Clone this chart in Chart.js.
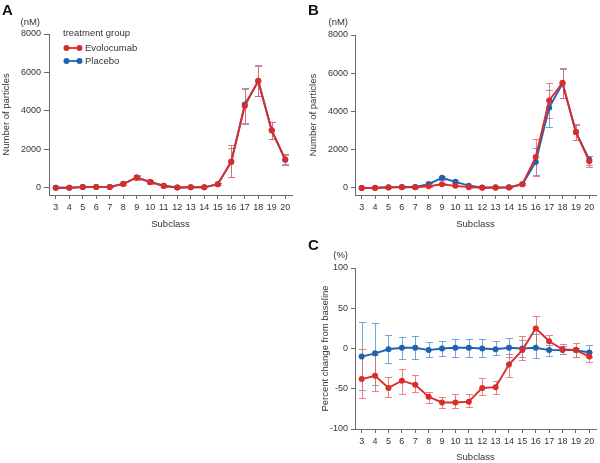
<!DOCTYPE html>
<html>
<head>
<meta charset="utf-8">
<script src="https://cdn.jsdelivr.net/npm/chart.js@4.4.1/dist/chart.umd.min.js"></script>
<style>
  body { margin:0; background:#fff; }
  .panel { position:absolute; }
</style>
</head>
<body>
<div class="panel" style="left:0;top:0"><canvas id="chartA" width="300" height="230"></canvas></div>
<div class="panel" style="left:300px;top:0"><canvas id="chartB" width="300" height="230"></canvas></div>
<div class="panel" style="left:300px;top:230px"><canvas id="chartC" width="300" height="233"></canvas></div>
<script>
// ======================================
// Data
// ======================================

const subclasses = ["3","4","5","6","7","8","9","10","11","12","13","14","15","16","17","18","19","20"];

const countTicks = [0,2000,4000,6000,8000];
const pctTicks = [-100,-50,0,50,100];

// A - baseline (nM)
const baseEvo     = [10,10,40,50,50,200,540,300,100,20,30,30,190,1370,4260,5570,2990,1480];
const baseEvoLow  = [0,0,20,30,30,140,430,220,60,10,20,20,140,560,3360,4780,2560,1220];
const baseEvoHigh = [20,20,60,70,70,260,650,380,140,30,40,40,240,2220,5170,6390,3450,1740];
const basePla     = [10,10,40,50,50,210,540,310,110,20,30,30,190,1350,4330,5540,2980,1460];
const basePlaLow  = [0,0,20,30,30,150,440,230,70,10,20,20,140,590,3330,4760,2540,1200];
const basePlaHigh = [20,20,60,70,70,270,640,390,150,30,40,40,240,2080,5130,6330,3420,1720];

// B - on treatment (nM)
const wkEvo     = [0,0,20,30,30,90,190,110,40,10,10,20,190,1620,4580,5500,2920,1390];
const wkEvoLow  = [0,0,10,20,20,60,140,80,20,0,0,10,140,630,3660,4720,2530,1100];
const wkEvoHigh = [10,10,30,40,40,120,240,140,60,20,20,30,240,2540,5500,6270,3360,1670];
const wkPla     = [0,10,40,50,50,200,530,320,120,20,30,30,190,1360,4200,5460,2920,1480];
const wkPlaLow  = [0,0,20,30,30,140,420,240,80,10,20,20,140,660,3190,4700,2500,1200];
const wkPlaHigh = [10,30,60,70,70,260,640,400,160,30,40,40,240,2090,5140,6230,3300,1650];

// C - percent change from baseline
const pctEvo     = [-38,-34,-49,-40,-45,-60,-67,-67,-66,-49,-48,-20,-2,25,9,-1,-2,-10];
const pctEvoLow  = [-61,-53,-60,-56,-54,-68,-74,-74,-73,-58,-56,-35,-14,1,-1,-7,-10,-17];
const pctEvoHigh = [0,-8,-35,-25,-33,-54,-60,-57,-56,-37,-40,-7,16,40,17,5,7,-4];
const pctPla     = [-10,-6,-1,1,1,-2,0,1,1,0,-1,1,0,1,-2,-2,-2,-5];
const pctPlaLow  = [-52,-45,-18,-13,-13,-11,-9,-10,-11,-11,-8,-10,-11,-12,-9,-7,-10,-11];
const pctPlaHigh = [33,32,17,14,16,8,9,12,12,12,9,13,10,18,4,3,1,4];

// ======================================
// Style
// ======================================

const RED = "#dc2b2b";
const BLUE = "#1f63b0";
const RED_ERR = "rgba(232,100,90,0.8)";
const BLUE_ERR = "rgba(90,140,210,0.8)";
const AXIS = "#6a6a6a";
const TEXT = "#333";
const FONT = "'Liberation Sans', Arial, sans-serif";

Chart.defaults.font.family = FONT;
Chart.defaults.font.size = 9;
Chart.defaults.color = TEXT;

// ======================================
// Plugins
// ======================================

const errorBars = {
    id:"errorBars",
    beforeDatasetsDraw(chart, args, opts){
        const ctx = chart.ctx;
        const xs = chart.scales.x;
        const ys = chart.scales.y;
        const cap = 3.5;
        (opts.bars || []).forEach(b=>{
            ctx.save();
            ctx.strokeStyle = b.color;
            ctx.lineWidth = 1;
            ctx.beginPath();
            b.low.forEach((lo,i)=>{
                const px = Math.round(xs.getPixelForValue(i)) + 0.5;
                const p1 = Math.round(ys.getPixelForValue(lo)) + 0.5;
                const p2 = Math.round(ys.getPixelForValue(b.high[i])) + 0.5;
                ctx.moveTo(px,p1); ctx.lineTo(px,p2);
                ctx.moveTo(px-cap,p1); ctx.lineTo(px+cap,p1);
                ctx.moveTo(px-cap,p2); ctx.lineTo(px+cap,p2);
            });
            ctx.stroke();
            ctx.restore();
        });
    }
};

const panelText = {
    id:"panelText",
    afterDraw(chart, args, opts){
        const ctx = chart.ctx;
        ctx.save();
        ctx.fillStyle = "#111";
        ctx.font = "bold 15px " + FONT;
        ctx.textBaseline = "top";
        ctx.textAlign = "left";
        ctx.fillText(opts.letter, opts.letterX, opts.letterY);

        ctx.fillStyle = TEXT;
        ctx.font = "9.5px " + FONT;
        ctx.textAlign = "right";
        ctx.textBaseline = "middle";
        ctx.fillText(opts.unit, opts.unitX, opts.unitY);

        if(opts.legend){
            const lg = opts.legend;
            ctx.textAlign = "left";
            ctx.fillText("treatment group", lg.x, lg.y);
            chart.data.datasets.forEach((ds,i)=>{
                const y = lg.y + 15 + i*13;
                ctx.strokeStyle = ds.borderColor;
                ctx.fillStyle = ds.borderColor;
                ctx.lineWidth = 1.8;
                ctx.beginPath();
                ctx.moveTo(lg.x + 1, y); ctx.lineTo(lg.x + 19, y);
                ctx.stroke();
                [lg.x + 3.5, lg.x + 16.5].forEach(cx=>{
                    ctx.beginPath();
                    ctx.arc(cx, y, 3, 0, Math.PI*2);
                    ctx.fill();
                });
                ctx.fillStyle = TEXT;
                ctx.fillText(ds.label, lg.x + 22, y);
            });
        }
        ctx.restore();
    }
};

// ======================================
// Chart builder
// ======================================

function makeDataset(label, data, color){
    return {
        label:label,
        data:data,
        borderColor:color,
        backgroundColor:color,
        borderWidth:1.9,
        pointRadius:3,
        pointBorderWidth:0,
        pointBackgroundColor:color,
        tension:0
    };
}

function createPanel(id, cfg){
    const ctx = document.getElementById(id);
    return new Chart(ctx,{
        type:"line",
        data:{
            labels:subclasses,
            datasets:[
                makeDataset("Evolocumab", cfg.evo, RED),
                makeDataset("Placebo", cfg.pla, BLUE)
            ]
        },
        options:{
            responsive:false,
            animation:false,
            devicePixelRatio:1,
            layout:{ padding:cfg.padding },
            plugins:{
                legend:{ display:false },
                tooltip:{ enabled:false },
                errorBars:{ bars:cfg.bars },
                panelText:cfg.text
            },
            scales:{
                x:{
                    type:"category",
                    offset:true,
                    afterFit:s=>{ s.height = cfg.xHeight; },
                    grid:{ display:true, drawOnChartArea:false, offset:false, tickLength:4, color:AXIS },
                    border:{ display:true, color:AXIS },
                    ticks:{ padding:3, maxRotation:0, autoSkip:false, font:{ size:9 } },
                    title:{ display:true, text:"Subclass", font:{ size:9.5 }, padding:{ top:0, bottom:0 } }
                },
                y:{
                    type:"linear",
                    min:cfg.yMin,
                    max:cfg.yMax,
                    afterFit:s=>{ s.width = cfg.yWidth; },
                    afterBuildTicks:s=>{ s.ticks = cfg.yTicks.map(v=>({ value:v })); },
                    grid:{ display:true, drawOnChartArea:false, tickLength:cfg.yTickLen, color:AXIS },
                    border:{ display:true, color:AXIS },
                    ticks:{ padding:3, font:{ size:9 }, callback:v=>String(v) },
                    title:{ display:true, text:cfg.yTitle, font:{ size:9.5 }, padding:{ top:cfg.yTitlePad, bottom:0 } }
                }
            }
        },
        plugins:[errorBars, panelText]
    });
}

// ======================================
// Panels
// ======================================

createPanel("chartA",{
    evo:baseEvo, pla:basePla,
    bars:[
        { low:basePlaLow, high:basePlaHigh, color:BLUE_ERR },
        { low:baseEvoLow, high:baseEvoHigh, color:RED_ERR }
    ],
    padding:{ left:0, right:8, top:34, bottom:0 },
    xHeight:35, yWidth:49, yTickLen:5, yTitlePad:1,
    yMin:-370, yMax:8000, yTicks:countTicks,
    yTitle:"Number of particles",
    text:{ letter:"A", letterX:2, letterY:3, unit:"(nM)", unitX:40, unitY:22,
           legend:{ x:63, y:33 } }
});

createPanel("chartB",{
    evo:wkEvo, pla:wkPla,
    bars:[
        { low:wkPlaLow, high:wkPlaHigh, color:BLUE_ERR },
        { low:wkEvoLow, high:wkEvoHigh, color:RED_ERR }
    ],
    padding:{ left:0, right:3, top:35, bottom:0 },
    xHeight:35, yWidth:55, yTickLen:4, yTitlePad:8,
    yMin:-370, yMax:8000, yTicks:countTicks,
    yTitle:"Number of particles",
    text:{ letter:"B", letterX:8, letterY:3, unit:"(nM)", unitX:48, unitY:22 }
});

createPanel("chartC",{
    evo:pctEvo, pla:pctPla,
    bars:[
        { low:pctPlaLow, high:pctPlaHigh, color:BLUE_ERR },
        { low:pctEvoLow, high:pctEvoHigh, color:RED_ERR }
    ],
    padding:{ left:0, right:3, top:38, bottom:0 },
    xHeight:34, yWidth:55, yTickLen:4, yTitlePad:20,
    yMin:-100, yMax:100, yTicks:pctTicks,
    yTitle:"Percent change from baseline",
    text:{ letter:"C", letterX:8, letterY:8, unit:"(%)", unitX:48, unitY:25 }
});
</script>
</body>
</html>
